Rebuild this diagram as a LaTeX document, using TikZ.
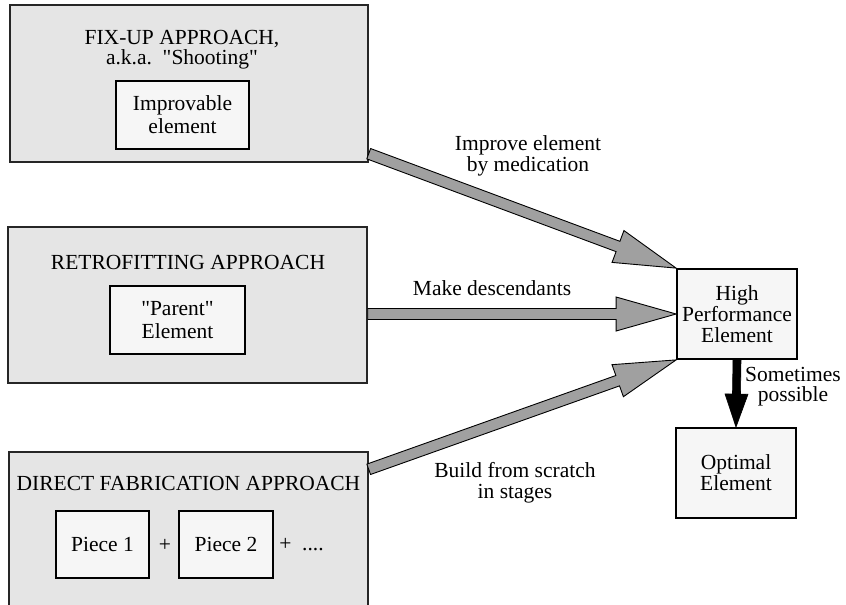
\documentclass[tikz,border=0pt]{standalone}
\usepackage{fontspec}
\setmainfont{Liberation Serif}[Ligatures=TeXOff]
\usetikzlibrary{calc}
\definecolor{outerfill}{HTML}{E5E5E5}
\definecolor{innerfill}{HTML}{F6F6F6}
\definecolor{arrowfill}{HTML}{A0A0A0}
% #1 style, #2 from, #3 to, #4 shaft half width, #5 head half width, #6 head length
\newcommand{\fatarrow}[6][]{%
  \coordinate (fa-h) at ($(#3)!#6!(#2)$);
  \draw[#1] ($(#2)!#4!90:(#3)$) -- ($(fa-h)!#4!-90:(#2)$) -- ($(fa-h)!#5!-90:(#2)$) -- (#3)
    -- ($(fa-h)!#5!90:(#2)$) -- ($(fa-h)!#4!90:(#2)$) -- ($(#2)!#4!-90:(#3)$) -- cycle;
}
\tikzset{
  txt/.style={font=\fontsize{21.5pt}{21pt}\selectfont, align=center, inner sep=0pt},
  outerbox/.style={draw=black!85, line width=1.4pt, fill=outerfill, inner sep=0pt},
  innerbox/.style={draw=black, line width=2.2pt, fill=innerfill, inner sep=0pt, txt},
  elembox/.style={draw=black, line width=1.8pt, fill=innerfill, inner sep=0pt, txt},
  grayarrow/.style={draw=black, line width=0.9pt, fill=arrowfill, line join=miter},
  blackarrow/.style={draw=black, line width=0.6pt, fill=black}
}
\begin{document}
\begin{tikzpicture}[x=1pt, y=-1pt]
\useasboundingbox (0,0) rectangle (846,605);
\fill[white] (0,0) rectangle (846,605);

% outer boxes
\node[outerbox, minimum width=358pt, minimum height=157pt] (fix) at (189,83.5) {};
\node[outerbox, minimum width=359pt, minimum height=156pt] (retro) at (187.5,305) {};
\node[outerbox, minimum width=359pt, minimum height=168pt] (direct) at (188.5,536) {};

% titles
\node[txt, font=\fontsize{21.5pt}{20pt}\selectfont] (fixtitle) at (182,50) {FIX-UP APPROACH,\\a.k.a.\ \ "Shooting"};
\node[txt] (retrotitle) at (188,262) {RETROFITTING APPROACH};
\node[txt] (directtitle) at (188.5,483) {DIRECT FABRICATION APPROACH};

% inner boxes
\node[innerbox, minimum width=133pt, minimum height=68pt, font=\fontsize{21.5pt}{23pt}\selectfont] (improv) at (182.5,115) {Improvable\\element};
\node[innerbox, minimum width=135pt, minimum height=68pt, font=\fontsize{21.5pt}{23pt}\selectfont] (parent) at (177.5,320) {"Parent"\\Element};
\node[innerbox, minimum width=93pt, minimum height=67pt] (piece1) at (102.5,544.5) {Piece 1};
\node[innerbox, minimum width=94pt, minimum height=67pt] (piece2) at (226,544.5) {Piece 2};
\node[txt] (plus1) at (165,545) {+};
\node[txt] (plus2) at (301.5,545) {+\ \ ....};

% element boxes
\node[elembox, minimum width=120pt, minimum height=90pt] (hp) at (737,314) {High\\Performance\\Element};
\node[elembox, minimum width=120pt, minimum height=90pt] (opt) at (736,473) {Optimal\\Element};

% arrows
\fatarrow[grayarrow]{$(fix.south east)+(0,-9)$}{hp.north west}{5.5pt}{17pt}{62pt}
\fatarrow[grayarrow]{retro.east |- hp.west}{hp.west}{5.5pt}{17pt}{60pt}
\fatarrow[grayarrow]{$(direct.north east)+(0,18)$}{hp.south west}{5.5pt}{17pt}{62pt}
\fatarrow[blackarrow]{hp.south}{opt.north}{4pt}{11.5pt}{33pt}

% labels
\node[txt] (lab1) at (528,156) {Improve element\\by medication};
\node[txt] (lab2) at (492,288) {Make descendants};
\node[txt] (lab3) at (515,483) {Build from scratch\\in stages};
\node[txt, font=\fontsize{21.5pt}{20pt}\selectfont] (lab4) at (793,387) {Sometimes\\possible};
\end{tikzpicture}
\end{document}
